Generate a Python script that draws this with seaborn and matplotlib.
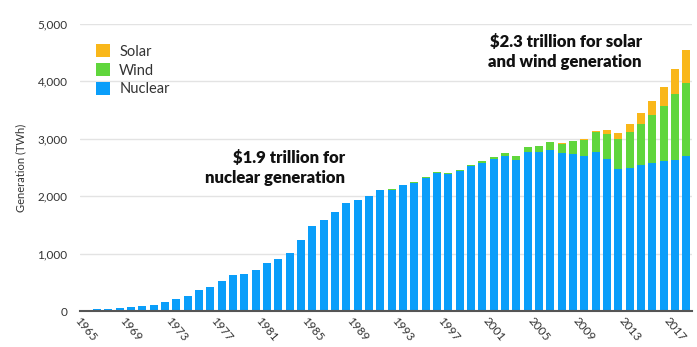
import numpy as np
import pandas as pd
import matplotlib
matplotlib.use("Agg")
import matplotlib.pyplot as plt
import seaborn as sns
from matplotlib.patches import Patch

years = list(range(1965, 2019))
nuclear = [25, 33, 39, 51, 61, 79, 111, 153, 203, 265,
           367, 424, 530, 620, 646, 712, 835, 899, 1019, 1238,
           1476, 1583, 1731, 1886, 1938, 2001, 2101, 2114, 2190, 2232,
           2324, 2410, 2392, 2435, 2525, 2583, 2650, 2692, 2638, 2764,
           2768, 2806, 2746, 2738, 2697, 2768, 2652, 2472, 2490, 2545,
           2577, 2616, 2636, 2701]
wind = [0] * 25 + [4, 4, 5, 6, 7, 8, 9, 12, 16, 22,
                   31, 38, 52, 63, 85, 104, 133, 171, 220, 276,
                   342, 437, 524, 637, 712, 831, 962, 1137, 1270]
solar = [0] * 36 + [2, 2, 3, 4, 5, 6, 8, 12, 20, 32,
                    64, 100, 136, 190, 251, 329, 444, 584]
tick_years = list(range(1965, 2018, 4))
series_names = ["Solar", "Wind", "Nuclear"]
colors = {"Solar": "#F9B71A", "Wind": "#60D63C", "Nuclear": "#0A9EFA"}

df = pd.DataFrame({"year": [str(y) for y in years],
                   "nuclear": nuclear, "wind": wind, "solar": solar})
df["nw"] = df["nuclear"] + df["wind"]
df["total"] = df["nw"] + df["solar"]

sns.set_theme(style="white")
plt.rcParams["font.family"] = ["Lato", "DejaVu Sans"]

W, H = 697, 347
fig = plt.figure(figsize=(W / 100, H / 100), dpi=100)
ax = fig.add_axes([80 / W, (H - 311) / H, (692 - 80) / W, (311 - 24) / H])

order = [str(y) for y in years]
for col, name in [("total", "Solar"), ("nw", "Wind"), ("nuclear", "Nuclear")]:
    sns.barplot(data=df, x="year", y=col, order=order, color=colors[name],
                saturation=1, width=0.72, linewidth=0, ax=ax, errorbar=None)

ax.set_xlim(-0.5, len(years) - 0.5)
ax.set_ylim(0, 5000)
ax.set_yticks([0, 1000, 2000, 3000, 4000, 5000])
ax.set_yticklabels(["0", "1,000", "2,000", "3,000", "4,000", "5,000"],
                   fontsize=8.5, color="#333333")
ax.yaxis.grid(True, color="#E3E3E3", linewidth=1)
ax.set_axisbelow(True)
ax.tick_params(axis="y", length=0, pad=9)
ax.tick_params(axis="x", length=0, pad=3)
idx = [years.index(y) for y in tick_years]
ax.set_xticks(idx)
ax.set_xticklabels([str(y) for y in tick_years], rotation=-50, ha="center",
                   va="top", fontsize=8.5, color="#333333")
for s in ["top", "right", "left"]:
    ax.spines[s].set_visible(False)
ax.spines["bottom"].set_color("#555555")
ax.spines["bottom"].set_linewidth(1.5)
ax.set_xlabel("")
ax.set_ylabel("Generation (TWh)", fontsize=8, color="#333333", labelpad=8)

handles = [Patch(facecolor=colors[n], edgecolor="none") for n in series_names]
ax.legend(handles, series_names, loc="upper left", frameon=False,
          bbox_to_anchor=(0.026, 0.93), borderaxespad=0, borderpad=0,
          handlelength=1.0, handleheight=1.0, handletextpad=0.6,
          labelspacing=0.3, fontsize=10.5, labelcolor="#333333")

fig.text(345 / W, 1 - 168 / H, "$1.9 trillion for\nnuclear generation",
         fontsize=12, fontweight="heavy", ha="right", va="center",
         multialignment="right", color="#111111", linespacing=1.25)
fig.text(642 / W, 1 - 52 / H, "$2.3 trillion for solar\nand wind generation",
         fontsize=12, fontweight="heavy", ha="right", va="center",
         multialignment="right", color="#111111", linespacing=1.25)

fig.savefig("out.png", dpi=100)
